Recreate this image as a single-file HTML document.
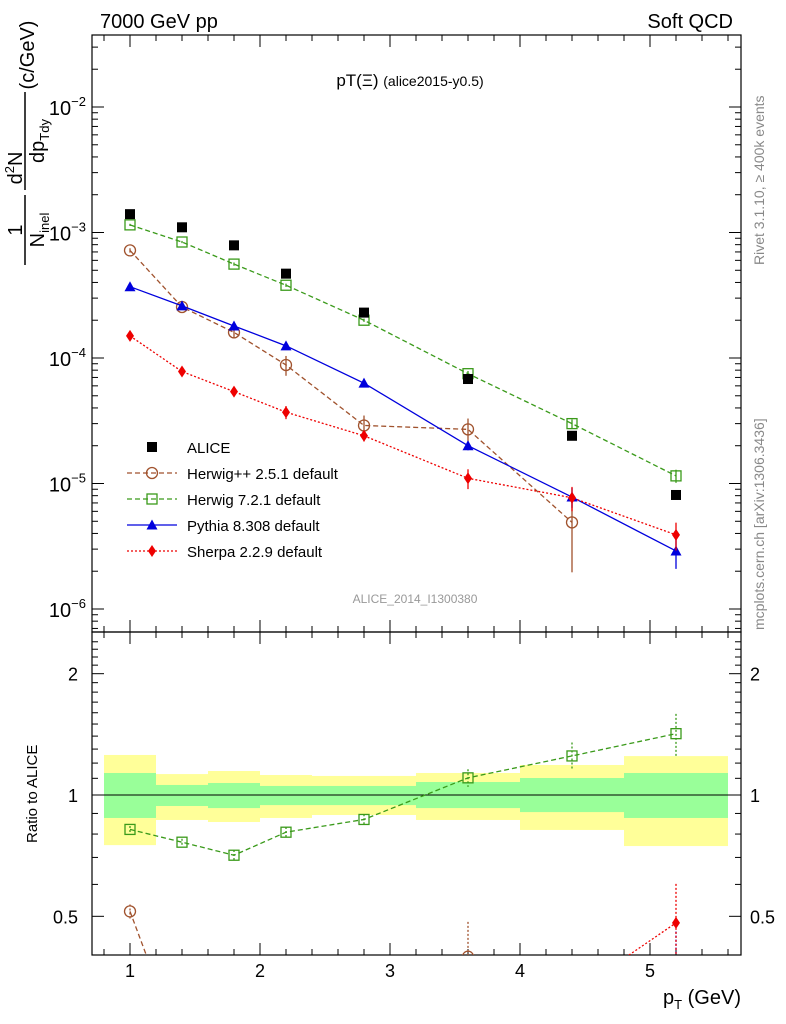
<!DOCTYPE html>
<html><head><meta charset="utf-8"><style>
html,body{margin:0;background:#fff;overflow:hidden;width:786px;height:1024px}
svg{font-family:"Liberation Sans",sans-serif;display:block}
</style></head><body>
<svg id="c" width="786" height="1024" viewBox="0 0 786 1024">
<defs><clipPath id="rc"><rect x="92" y="632" width="649" height="323"/></clipPath></defs>
<g id="bands"></g><g id="axes"></g><g id="marks"></g>
<text x="100" y="28" font-size="20">7000 GeV pp</text>
<text x="733" y="28" font-size="20" text-anchor="end">Soft QCD</text>
<text x="410" y="86" font-size="17" text-anchor="middle">pT(Ξ) <tspan font-size="14">(alice2015-y0.5)</tspan></text>
<text x="415" y="603" font-size="12" fill="#999" text-anchor="middle">ALICE_2014_I1300380</text>
<text transform="translate(764,265) rotate(-90)" font-size="14" fill="#888">Rivet 3.1.10, ≥ 400k events</text>
<text transform="translate(764,630) rotate(-90)" font-size="14" fill="#888">mcplots.cern.ch [arXiv:1306.3436]</text>
<g font-size="20">
<text transform="translate(22,230) rotate(-90)" text-anchor="middle">1</text>
<line x1="25" y1="265" x2="25" y2="195" stroke="#000" stroke-width="1.5"/>
<text transform="translate(44,230) rotate(-90)" text-anchor="middle">N<tspan font-size="13" dy="5">inel</tspan></text>
<text transform="translate(22,168) rotate(-90)" text-anchor="middle">d<tspan font-size="13" dy="-8">2</tspan><tspan dy="8">N</tspan></text>
<line x1="25" y1="190" x2="25" y2="92" stroke="#000" stroke-width="1.5"/>
<text transform="translate(44,141) rotate(-90)" text-anchor="middle">dp<tspan font-size="13" dy="5">Tdy</tspan></text>
<text transform="translate(34,55) rotate(-90)" text-anchor="middle">(c/GeV)</text>
</g>
<text transform="translate(37,843) rotate(-90)" font-size="15">Ratio to ALICE</text>
<text x="741" y="1004" font-size="20" text-anchor="end">p<tspan font-size="13" dy="5">T</tspan><tspan dy="-5"> (GeV)</tspan></text>
</svg>
<script>
const pts=[1.0,1.4,1.8,2.2,2.8,3.6,4.4,5.2];
const alice=[1.4e-3,1.1e-3,7.9e-4,4.7e-4,2.3e-4,6.8e-5,2.4e-5,8.1e-6];
const herwigpp=[7.2e-4,2.55e-4,1.6e-4,8.8e-5,2.9e-5,2.7e-5,4.9e-6,null];
const herwigppErr=[0.04,0.05,0.1,0.18,0.2,0.22,0.6,0];
const herwig7=[1.15e-3,8.4e-4,5.6e-4,3.8e-4,2.0e-4,7.5e-5,3.0e-5,1.15e-5];
const herwig7Err=[0.02,0.02,0.03,0.03,0.03,0.05,0.08,0.12];
const pythia=[3.7e-4,2.6e-4,1.8e-4,1.25e-4,6.3e-5,2.0e-5,7.8e-6,2.9e-6];
const pythiaErr=[0.02,0.02,0.03,0.03,0.04,0.08,0.18,0.28];
const sherpa=[1.5e-4,7.8e-5,5.4e-5,3.7e-5,2.4e-5,1.1e-5,7.7e-6,3.9e-6];
const sherpaErr=[0.03,0.05,0.07,0.12,0.1,0.18,0.22,0.25];
const binEdges=[0.8,1.2,1.6,2.0,2.4,3.2,4.0,4.8,5.6];
const yellowHi=[1.257,1.127,1.147,1.121,1.115,1.134,1.187,1.249];
const yellowLo=[0.751,0.867,0.857,0.877,0.892,0.867,0.819,0.747];
const greenHi=[1.134,1.059,1.071,1.053,1.053,1.077,1.102,1.134];
const greenLo=[0.877,0.939,0.928,0.944,0.944,0.928,0.907,0.877];
const xTicks=[1,2,3,4,5];
const yDecades=[-6,-5,-4,-3,-2];
const rTicks=[0.5,1,2];

const NS="http://www.w3.org/2000/svg";
const L=92,R=741,T=35,M=632,B=955;
const X=v=>130*v;
const Y=v=>107-(Math.log10(v)+2)*125.5;
const RY=v=>795-Math.log10(v)*403;
function el(p,t,a){const e=document.createElementNS(NS,t);for(const k in a)e.setAttribute(k,a[k]);document.getElementById(p).appendChild(e);return e;}

for(let i=0;i<8;i++){
 const b=el('bands','rect',{x:X(binEdges[i]),y:RY(yellowHi[i]),width:X(binEdges[i+1])-X(binEdges[i]),height:RY(yellowLo[i])-RY(yellowHi[i]),fill:'#ffff99'});
 
 
 const g=el('bands','rect',{x:X(binEdges[i]),y:RY(greenHi[i]),width:X(binEdges[i+1])-X(binEdges[i]),height:RY(greenLo[i])-RY(greenHi[i]),fill:'#99ff99'});
 
 
}
el('bands','line',{x1:L,x2:R,y1:RY(1),y2:RY(1),stroke:'#000'});
el('axes','rect',{x:L,y:T,width:R-L,height:M-T,fill:'none',stroke:'#000','stroke-width':1.2});
el('axes','rect',{x:L,y:M,width:R-L,height:B-M,fill:'none',stroke:'#000','stroke-width':1.2});
for(let v=0.8;v<=5.65;v+=0.2){const major=Math.abs(v-Math.round(v))<1e-6;const len=major?12:6;
 for(const [y0,d] of [[M,-1],[T,1],[B,-1],[M,1]]) el('axes','line',{x1:X(v),x2:X(v),y1:y0,y2:y0+d*len,stroke:'#000'});}
xTicks.forEach(v=>{const t=el('axes','text',{x:X(v),y:977,'font-size':18,'text-anchor':'middle'});t.textContent=v;
 
 });
for(let d=-7;d<=-1;d++)for(let m=1;m<10;m++){const v=m*Math.pow(10,d);const y=Y(v);if(y<T||y>M)continue;const len=m==1?12:6;
 el('axes','line',{x1:L,x2:L+len,y1:y,y2:y,stroke:'#000'});el('axes','line',{x1:R,x2:R-len,y1:y,y2:y,stroke:'#000'});}
yDecades.forEach(d=>{const t=el('axes','text',{x:86,y:Y(Math.pow(10,d))+8,'font-size':20,'text-anchor':'end'});
 t.innerHTML='10<tspan font-size="13" dy="-9">−'+(-d)+'</tspan>';
 
 });
for(let v=0.4;v<=2.5;v+=0.1){const y=RY(v);if(y<M||y>B)continue;const maj=rTicks.some(r=>Math.abs(r-v)<1e-6);const len=maj?12:6;
 el('axes','line',{x1:L,x2:L+len,y1:y,y2:y,stroke:'#000'});el('axes','line',{x1:R,x2:R-len,y1:y,y2:y,stroke:'#000'});}
rTicks.forEach(v=>{for(const [x,a] of [[78,'end'],[750,'start']]){const t=el('axes','text',{x:x,y:RY(v)+7,'font-size':18,'text-anchor':a});t.textContent=v;
 
 }});

function marker(g,shape,x,y,c){
 if(shape=='sq')el(g,'rect',{x:x-5,y:y-5,width:10,height:10,fill:'#000'});
 if(shape=='osq')el(g,'rect',{x:x-5,y:y-5,width:10,height:10,fill:'none',stroke:c,'stroke-width':1.3});
 if(shape=='oc')el(g,'circle',{cx:x,cy:y,r:5.5,fill:'none',stroke:c,'stroke-width':1.3});
 if(shape=='tri')el(g,'path',{d:`M${x-5.5},${y+4.5}L${x+5.5},${y+4.5}L${x},${y-5.5}Z`,fill:c});
 if(shape=='dia')el(g,'path',{d:`M${x},${y-6}L${x+4},${y}L${x},${y+6}L${x-4},${y}Z`,fill:c});
}
const series=[
 {d:herwigpp,e:herwigppErr,c:'#a0522d',dash:'5,3',s:'oc',n:'herwigpp'},
 {d:herwig7,e:herwig7Err,c:'#3a9a1a',dash:'5,3',s:'osq',n:'herwig7'},
 {d:pythia,e:pythiaErr,c:'#0000dd',dash:'',s:'tri',n:'pythia'},
 {d:sherpa,e:sherpaErr,c:'#ee0000',dash:'2,2',s:'dia',n:'sherpa'}];
series.forEach(s=>{
 const g=el('marks','g',{});g.id='g'+s.n;
 
 
 const rg=el('marks','g',{'clip-path':'url(#rc)'});rg.id='r'+s.n;
 
 
 let p='',rp='';
 pts.forEach((x,i)=>{const v=s.d[i];if(v==null)return;p+=(p?'L':'M')+X(x)+','+Y(v);rp+=(rp?'L':'M')+X(x)+','+RY(v/alice[i]);});
 el(g.id,'path',{d:p,fill:'none',stroke:s.c,'stroke-dasharray':s.dash,'stroke-width':1.3});
 el(rg.id,'path',{d:rp,fill:'none',stroke:s.c,'stroke-dasharray':s.dash,'stroke-width':1.3});
 pts.forEach((x,i)=>{const v=s.d[i];if(v==null)return;const e=s.e[i];
  el(g.id,'line',{x1:X(x),x2:X(x),y1:Y(v*(1+e)),y2:Y(v*Math.max(0.05,1-e)),stroke:s.c,'stroke-width':1.3});
  const r=v/alice[i];
  el(rg.id,'line',{x1:X(x),x2:X(x),y1:RY(r*(1+e)),y2:RY(r*Math.max(0.05,1-e)),stroke:s.c,'stroke-width':1.3,'stroke-dasharray':'2,2'});
  marker(g.id,s.s,X(x),Y(v),s.c);marker(rg.id,s.s,X(x),RY(r),s.c);});
});
const ag=el('marks','g',{});ag.id='galice';


pts.forEach((x,i)=>marker('galice','sq',X(x),Y(alice[i])));
const leg=[['ALICE','sq','#000',''],['Herwig++ 2.5.1 default','oc','#a0522d','5,3'],['Herwig 7.2.1 default','osq','#3a9a1a','5,3'],['Pythia 8.308 default','tri','#0000dd',''],['Sherpa 2.2.9 default','dia','#ee0000','2,2']];
const lg=el('marks','g',{});lg.id='leg';


leg.forEach((l,i)=>{const y=447+i*26;
 if(i>0)el('leg','line',{x1:127,x2:177,y1:y,y2:y,stroke:l[2],'stroke-dasharray':l[3],'stroke-width':1.3});
 marker('leg',l[1],152,y,l[2]);
 const t=el('leg','text',{x:187,y:y+6,'font-size':15});t.textContent=l[0];
 
 });
</script>
</body></html>
